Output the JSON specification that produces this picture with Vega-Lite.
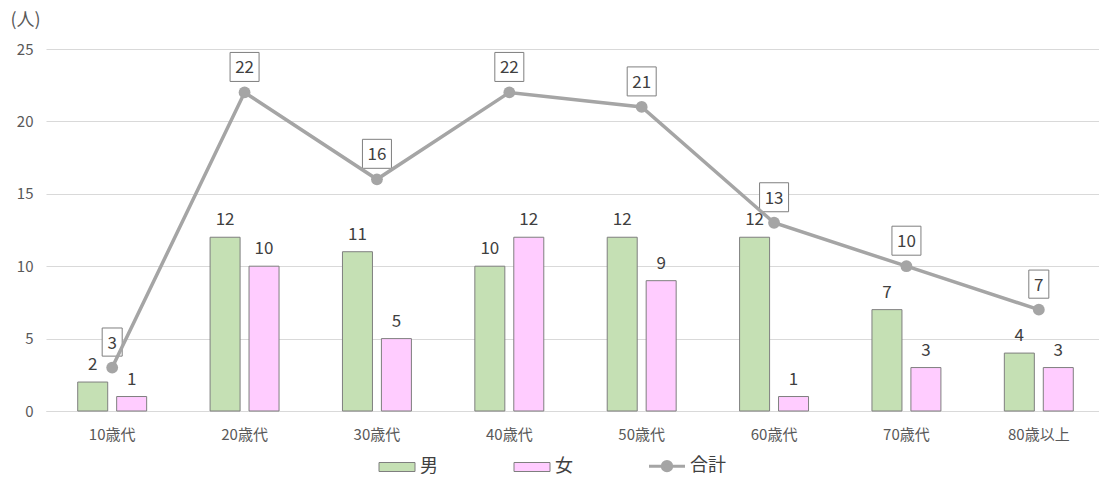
{
  "$schema": "https://vega.github.io/schema/vega-lite/v6.json",
  "width": 1059,
  "height": 362,
  "autosize": {"type": "none"},
  "padding": {"left": 46, "top": 49, "right": 0, "bottom": 70},
  "background": "white",
  "config": {"font": "Noto Sans CJK JP", "view": {"stroke": null}},
  "datasets": {
    "bars": [
      {"age": "10歳代", "gender": "男", "value": 2},
      {"age": "10歳代", "gender": "女", "value": 1},
      {"age": "20歳代", "gender": "男", "value": 12},
      {"age": "20歳代", "gender": "女", "value": 10},
      {"age": "30歳代", "gender": "男", "value": 11},
      {"age": "30歳代", "gender": "女", "value": 5},
      {"age": "40歳代", "gender": "男", "value": 10},
      {"age": "40歳代", "gender": "女", "value": 12},
      {"age": "50歳代", "gender": "男", "value": 12},
      {"age": "50歳代", "gender": "女", "value": 9},
      {"age": "60歳代", "gender": "男", "value": 12},
      {"age": "60歳代", "gender": "女", "value": 1},
      {"age": "70歳代", "gender": "男", "value": 7},
      {"age": "70歳代", "gender": "女", "value": 3},
      {"age": "80歳以上", "gender": "男", "value": 4},
      {"age": "80歳以上", "gender": "女", "value": 3}
    ],
    "totals": [
      {"age": "10歳代", "total": 3},
      {"age": "20歳代", "total": 22},
      {"age": "30歳代", "total": 16},
      {"age": "40歳代", "total": 22},
      {"age": "50歳代", "total": 21},
      {"age": "60歳代", "total": 13},
      {"age": "70歳代", "total": 10},
      {"age": "80歳以上", "total": 7}
    ]
  },
  "encoding": {
    "x": {
      "field": "age", "type": "nominal", "sort": null,
      "scale": {"paddingInner": 0.479, "paddingOuter": 0.2395},
      "axis": {"title": null, "labelAngle": 0, "labelFontSize": 15, "labelColor": "#595959", "ticks": false, "domain": true, "domainColor": "#d9d9d9", "labelPadding": 16, "grid": false}
    }
  },
  "layer": [
    {
      "data": {"name": "bars"},
      "mark": {"type": "bar", "stroke": "#7f7f7f", "strokeWidth": 1},
      "encoding": {
        "xOffset": {"field": "gender", "type": "nominal", "sort": ["男", "女"], "scale": {"paddingInner": 0.23, "paddingOuter": 0}},
        "y": {
          "field": "value", "type": "quantitative",
          "scale": {"domain": [0, 25], "nice": false},
          "axis": {"title": "(人)", "titleAngle": 0, "titleX": -36, "titleY": -29, "titleAlign": "left", "titleBaseline": "middle", "titleFontSize": 18, "titleFontWeight": "normal", "titleColor": "#595959", "values": [0, 5, 10, 15, 20, 25], "labelFontSize": 15, "labelColor": "#595959", "ticks": false, "domain": false, "gridColor": "#d9d9d9", "labelPadding": 13}
        },
        "color": {
          "field": "gender", "type": "nominal",
          "scale": {"domain": ["男", "女", "合計"], "range": ["#c5e0b4", "#ffccff", "#a5a5a5"]},
          "legend": {
            "title": null, "orient": "none", "legendX": 342, "legendY": 408,
            "direction": "horizontal", "columns": 3, "gridAlign": "all", "columnPadding": 52,
            "labelFontSize": 18, "labelColor": "#404040", "labelOffset": 14,
            "symbolType": "M-1,-0.25H1V0.25H-1Z", "symbolSize": 1296,
            "symbolStrokeColor": "#7f7f7f", "symbolStrokeWidth": 1, "symbolOpacity": 1,
            "encode": {
              "symbols": {
                "update": {
                  "shape": {"signal": "datum.value === '合計' ? 'M-1,0H1M-0.26,0A0.26,0.26 0 1,1 0.26,0A0.26,0.26 0 1,1 -0.26,0Z' : 'M-1,-0.25H1V0.25H-1Z'"},
                  "stroke": {"signal": "datum.value === '合計' ? '#a5a5a5' : '#7f7f7f'"},
                  "strokeWidth": {"signal": "datum.value === '合計' ? 3 : 1"}
                }
              }
            }
          }
        }
      }
    },
    {
      "data": {"name": "bars"},
      "mark": {"type": "text", "baseline": "alphabetic", "dy": -12, "fontSize": 17, "color": "#404040"},
      "encoding": {
        "xOffset": {"field": "gender", "type": "nominal", "sort": ["男", "女"]},
        "y": {"field": "value", "type": "quantitative"},
        "text": {"field": "value", "type": "quantitative"}
      }
    },
    {
      "data": {"name": "totals"},
      "mark": {"type": "point", "filled": true, "fill": "white", "stroke": "#7f7f7f", "strokeWidth": 1, "opacity": 1, "size": 841, "yOffset": -25.5},
      "encoding": {
        "y": {"field": "total", "type": "quantitative"},
        "shape": {"condition": {"test": "datum.total >= 10", "value": "M-1,-1H1V1H-1Z"}, "value": "M-0.69,-0.97H0.69V0.97H-0.69Z"}
      }
    },
    {
      "data": {"name": "totals"},
      "mark": {"type": "line", "color": "#a5a5a5", "strokeWidth": 3.5},
      "encoding": {
        "y": {"field": "total", "type": "quantitative"}
      }
    },
    {
      "data": {"name": "totals"},
      "mark": {"type": "point", "filled": true, "color": "#a5a5a5", "opacity": 1, "size": 140},
      "encoding": {
        "y": {"field": "total", "type": "quantitative"}
      }
    },
    {
      "data": {"name": "totals"},
      "mark": {"type": "text", "baseline": "alphabetic", "dy": -19, "fontSize": 17, "color": "#404040"},
      "encoding": {
        "y": {"field": "total", "type": "quantitative"},
        "text": {"field": "total", "type": "quantitative"}
      }
    }
  ]
}
